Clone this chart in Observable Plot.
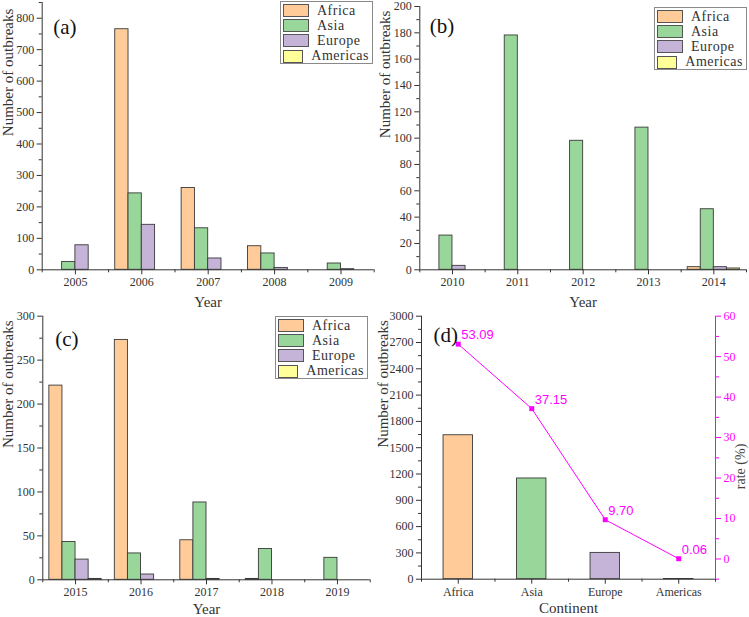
<!DOCTYPE html>
<html>
<head>
<meta charset="utf-8">
<script src="https://cdn.jsdelivr.net/npm/d3@7"></script>
<script src="https://cdn.jsdelivr.net/npm/@observablehq/plot@0.6"></script>
<style>
  body { margin: 0; background: #fff; }
  #root { position: relative; width: 749px; height: 617px; background: #fff; overflow: hidden; }
  .panel { position: absolute; }
  .legend { position: absolute; z-index: 5; background: #fff; border: 1px solid #8a8a8a; box-sizing: border-box; padding: 1px 3px 1px 2px; }
  .legend .row { display: flex; align-items: center; height: 15.2px; }
  .legend .sw { width: 26px; height: 13px; border: 1px solid #555; box-sizing: border-box; }
  .legend .lab { margin-left: 8px; font: 14px "Liberation Serif", serif; letter-spacing: 0.5px; color: #333; white-space: nowrap; }
</style>
</head>
<body>
<div id="root"></div>
<script>
// ---- data ----
const continents = ["Africa", "Asia", "Europe", "Americas"];
const colors = ["#FFCC99", "#99D699", "#C5B4D8", "#FFFF99"];

const yearsA = [2005, 2006, 2007, 2008, 2009];
const africaA = [0, 765, 260, 75, 0];
const asiaA = [25, 243, 132, 52, 20];
const europeA = [78, 143, 36, 6, 2];
const americasA = [0, 0, 0, 0, 0];

const yearsB = [2010, 2011, 2012, 2013, 2014];
const africaB = [0, 0, 0, 0, 2];
const asiaB = [26, 178, 98, 108, 46];
const europeB = [3, 0, 0, 0, 2];
const americasB = [0, 0, 0, 0, 1];

const yearsC = [2015, 2016, 2017, 2018, 2019];
const africaC = [221, 273, 45, 1, 0];
const asiaC = [43, 30, 88, 35, 25];
const europeC = [23, 6, 1, 0, 0];
const americasC = [1, 0, 0, 0, 0];

const totalsD = [1642, 1149, 300, 2];
const ratesD = [53.09, 37.15, 9.70, 0.06];

const yTicksA = d3.range(0, 801, 100), yMinorA = d3.range(50, 851, 100);
const yTicksB = d3.range(0, 201, 20), yMinorB = d3.range(10, 200, 20);
const yTicksC = d3.range(0, 301, 50), yMinorC = d3.range(25, 300, 50);
const yTicksD = d3.range(0, 3001, 300), yMinorD = d3.range(150, 3000, 300);
const rateTicks = d3.range(0, 61, 10), rateMinor = d3.range(-5, 60, 10);

// ---- drawing ----
const root = document.getElementById("root");
const baseStyle = {background: "transparent", fontFamily: "'Liberation Serif', serif", fontSize: "12px", color: "#333", overflow: "visible"};
const axisColor = "#333";

function rowsOf(years, series) {
  return years.flatMap((yr, i) => continents.map((c, j) => ({year: yr, cont: c, j, value: series[j][i]})));
}

function place(svg, left, top) {
  const wrap = document.createElement("div");
  wrap.className = "panel";
  wrap.style.left = left + "px";
  wrap.style.top = top + "px";
  wrap.appendChild(svg);
  root.appendChild(wrap);
}

function legend(left, top, w, h) {
  const box = document.createElement("div");
  box.className = "legend";
  box.style.left = left + "px"; box.style.top = top + "px";
  box.style.width = w + "px"; box.style.height = h + "px";
  continents.forEach((c, i) => {
    const row = document.createElement("div"); row.className = "row";
    const sw = document.createElement("div"); sw.className = "sw"; sw.style.background = colors[i];
    const lab = document.createElement("div"); lab.className = "lab"; lab.textContent = c;
    row.appendChild(sw); row.appendChild(lab); box.appendChild(row);
  });
  root.appendChild(box);
}

function barPanel(cfg) {
  const {years, series, yMax, yTicks, yMinor, tag} = cfg;
  const x0 = years[0] - 0.5, x1 = years[years.length - 1] + 0.5;
  const data = rowsOf(years, series);
  return Plot.plot({
    width: cfg.width, height: cfg.height,
    marginLeft: cfg.ml, marginRight: cfg.mr, marginTop: cfg.mt, marginBottom: cfg.mb,
    x: {domain: [x0, x1]},
    y: {domain: [0, yMax]},
    color: {domain: continents, range: colors},
    style: baseStyle,
    marks: [
      Plot.rect(data, {
        x1: d => d.year - 0.4 + d.j * 0.2,
        x2: d => d.year - 0.2 + d.j * 0.2,
        y1: 0, y2: "value", fill: "cont", stroke: "#3a3a3a", strokeWidth: 0.9
      }),
      Plot.ruleX([x0], {stroke: axisColor}),
      Plot.ruleY([0], {stroke: axisColor}),
      Plot.axisX({ticks: years, tickFormat: d => String(d), tickSize: 5, tickPadding: 3, label: null, stroke: axisColor, fill: "#333"}),
      Plot.axisX({ticks: years.map(y => y - 0.5).concat([x1]), tickSize: 3, tickFormat: () => "", label: null, stroke: axisColor}),
      Plot.axisY({ticks: yTicks, tickFormat: d => String(d), tickSize: 5, tickPadding: 3, label: null, stroke: axisColor, fill: "#333"}),
      Plot.axisY({ticks: yMinor, tickSize: 3, tickFormat: () => "", label: null, stroke: axisColor}),
      Plot.text(["Number of outbreaks"], {text: d => d, frameAnchor: "left", dx: cfg.titleDx, rotate: -90, fontSize: 15, fill: "#333"}),
      Plot.text(["Year"], {text: d => d, frameAnchor: "bottom", dy: cfg.xTitleDy, fontSize: 15, fill: "#333"}),
      Plot.text([tag], {text: d => d, frameAnchor: "top-left", dx: cfg.tagDx, dy: cfg.tagDy, textAnchor: "start", fontSize: 21, fill: "#111"})
    ]
  });
}

// (a)
place(barPanel({
  years: yearsA, series: [africaA, asiaA, europeA, americasA], yMax: 850,
  yTicks: yTicksA, yMinor: yMinorA, tag: "(a)",
  width: 376, height: 308, ml: 41.7, mr: 2.3, mt: 2, mb: 38.7,
  titleDx: -34.5, xTitleDy: 37, tagDx: 11, tagDy: 16.5
}), 0, 0);

// (b)
place(barPanel({
  years: yearsB, series: [africaB, asiaB, europeB, americasB], yMax: 200,
  yTicks: yTicksB, yMinor: yMinorB, tag: "(b)",
  width: 373, height: 308, ml: 43.3, mr: 3, mt: 6, mb: 38.7,
  titleDx: -34.5, xTitleDy: 37, tagDx: 10, tagDy: 11.5
}), 376, 0);

// (c)
place(barPanel({
  years: yearsC, series: [africaC, asiaC, europeC, americasC], yMax: 300,
  yTicks: yTicksC, yMinor: yMinorC, tag: "(c)",
  width: 376, height: 309, ml: 42.3, mr: 6.3, mt: 7.7, mb: 37.7,
  titleDx: -35, xTitleDy: 34, tagDx: 12.5, tagDy: 15.3
}), 0, 308);

// (d)
const tr = r => (r + 5) * 3000 / 65;
const untr = v => v * 65 / 3000 - 5;
const dData = continents.map((c, i) => ({i: i + 1, cont: c, total: totalsD[i], rate: ratesD[i]}));
const svgD = Plot.plot({
  width: 373, height: 309,
  marginLeft: 45, marginRight: 34, marginTop: 7.7, marginBottom: 38.3,
  x: {domain: [0.5, 4.5]},
  y: {domain: [0, 3000]},
  color: {domain: continents, range: colors},
  style: baseStyle,
  marks: [
    Plot.rect(dData, {x1: d => d.i - 0.2, x2: d => d.i + 0.2, y1: 0, y2: "total", fill: "cont", stroke: "#3a3a3a", strokeWidth: 0.9}),
    Plot.ruleX([0.5], {stroke: axisColor}),
    Plot.ruleY([0], {stroke: axisColor}),
    Plot.ruleX([4.5], {stroke: "#FF00FF"}),
    Plot.axisX({ticks: dData.map(d => d.i), tickFormat: i => continents[i - 1], tickSize: 5, tickPadding: 3, label: null, stroke: axisColor, fill: "#333"}),
    Plot.axisX({ticks: [0.5, 1.5, 2.5, 3.5, 4.5], tickSize: 3, tickFormat: () => "", label: null, stroke: axisColor}),
    Plot.axisY({ticks: yTicksD, tickFormat: d => String(d), tickSize: 5, tickPadding: 3, label: null, stroke: axisColor, fill: "#333"}),
    Plot.axisY({ticks: yMinorD, tickSize: 3, tickFormat: () => "", label: null, stroke: axisColor}),
    Plot.axisY({anchor: "right", ticks: rateTicks.map(tr), tickFormat: v => String(Math.round(untr(v))), tickSize: 5, tickPadding: 3, label: null, stroke: "#FF00FF", fill: "#FF00FF"}),
    Plot.axisY({anchor: "right", ticks: rateMinor.map(tr), tickFormat: () => "", tickSize: 3, label: null, stroke: "#FF00FF"}),
    Plot.line(dData, {x: "i", y: d => tr(d.rate), stroke: "#FF00FF", strokeWidth: 1}),
    Plot.dot(dData, {x: "i", y: d => tr(d.rate), symbol: "square", r: 2.8, fill: "#FF00FF", stroke: "none"}),
    Plot.text(dData, {x: "i", y: d => tr(d.rate), text: d => d.rate.toFixed(2), dx: 3, dy: -9, textAnchor: "start", fill: "#FF00FF", fontSize: 13, fontFamily: "'Liberation Sans', sans-serif"}),
    Plot.text(["Number of outbreaks"], {text: d => d, frameAnchor: "left", dx: -38, rotate: -90, fontSize: 15, fill: "#333"}),
    Plot.text(["rate (%)"], {text: d => d, frameAnchor: "right", dx: 25, dy: -4, rotate: -90, fontSize: 14, fill: "#444"}),
    Plot.text(["Continent"], {text: d => d, frameAnchor: "bottom", dy: 33.5, fontSize: 15, fill: "#333"}),
    Plot.text(["(d)"], {text: d => d, frameAnchor: "top-left", dx: 12, dy: 10.8, textAnchor: "start", fontSize: 21, fill: "#111"})
  ]
});
place(svgD, 376, 308);

legend(280, 1, 93, 63);
legend(654, 7, 93, 63);
legend(275, 316, 93, 63);
</script>
</body>
</html>
